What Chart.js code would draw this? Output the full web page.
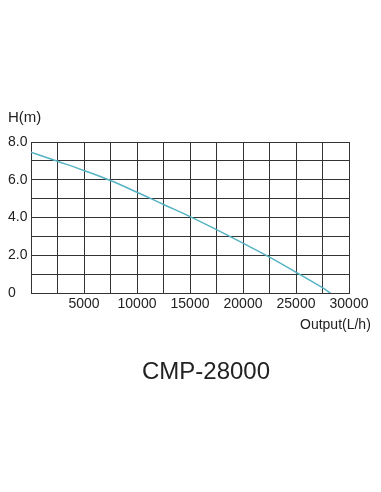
<!DOCTYPE html>
<html>
<head>
<meta charset="utf-8">
<script src="https://cdn.jsdelivr.net/npm/chart.js@4"></script>
<style>
html,body{margin:0;padding:0;background:#fff;}
#wrap{position:relative;width:381px;height:492px;}
</style>
</head>
<body>
<div id="wrap"><canvas id="c" width="381" height="492"></canvas></div>
<script>
// Data
const flowLh = [0, 2500, 5000, 7500, 10000, 12500, 15000, 17500, 20000, 22500, 25000, 27500, 28250];
const headM  = [7.46, 6.98, 6.49, 5.96, 5.34, 4.69, 4.05, 3.36, 2.64, 1.9, 1.1, 0.28, 0];
const xTickLabels = ['5000', '10000', '15000', '20000', '25000', '30000'];
const yTickLabels = ['0', '2.0', '4.0', '6.0', '8.0'];
const yAxisTitle = 'H(m)';
const xAxisTitle = 'Output(L/h)';
const modelName = 'CMP-28000';

const FONT = '"Liberation Sans", Arial, sans-serif';
const TXT = '#222';

const textPlugin = {
  id: 'texts',
  afterDraw(chart) {
    const ctx = chart.ctx;
    const area = chart.chartArea;
    ctx.save();
    ctx.fillStyle = TXT;
    ctx.textBaseline = 'middle';
    ctx.textAlign = 'left';
    ctx.font = '15px ' + FONT;
    ctx.fillText(yAxisTitle, 8, area.top - 24);
    ctx.font = '14px ' + FONT;
    ctx.fillText(xAxisTitle, 300, area.bottom + 32);
    ctx.textAlign = 'center';
    ctx.font = '24px ' + FONT;
    ctx.fillText(modelName, 206, area.bottom + 79);
    ctx.restore();
  }
};

const data = flowLh.map((x, i) => ({x: x, y: headM[i]}));

new Chart(document.getElementById('c'), {
  type: 'line',
  data: {
    datasets: [{
      data: data,
      borderColor: '#55b3c3',
      borderWidth: 1.5,
      pointRadius: 0,
      fill: false,
      tension: 0.4
    }]
  },
  options: {
    responsive: false,
    animation: false,
    events: [],
    layout: {padding: {left: 8, right: 32, top: 142, bottom: 179}},
    plugins: {legend: {display: false}, tooltip: {enabled: false}},
    scales: {
      x: {
        type: 'linear',
        min: 0, max: 30000,
        afterFit(s) { s.height = 20; },
        ticks: {
          stepSize: 2500,
          autoSkip: false,
          maxRotation: 0,
          padding: 3,
          color: TXT,
          font: {family: FONT, size: 14},
          callback(v) {
            const s = String(v);
            return xTickLabels.includes(s) ? s : '';
          }
        },
        grid: {color: '#333', lineWidth: 1, drawTicks: false},
        border: {color: '#333', width: 1}
      },
      y: {
        type: 'linear',
        min: 0, max: 8,
        afterFit(s) { s.width = 23; },
        ticks: {
          stepSize: 1,
          autoSkip: false,
          crossAlign: 'far',
          padding: 3,
          color: TXT,
          font: {family: FONT, size: 14},
          callback(v) {
            const s = v === 0 ? '0' : Number(v).toFixed(1);
            return yTickLabels.includes(s) ? s : '';
          }
        },
        grid: {color: '#333', lineWidth: 1, drawTicks: false},
        border: {color: '#333', width: 1}
      }
    }
  },
  plugins: [textPlugin]
});
</script>
</body>
</html>
